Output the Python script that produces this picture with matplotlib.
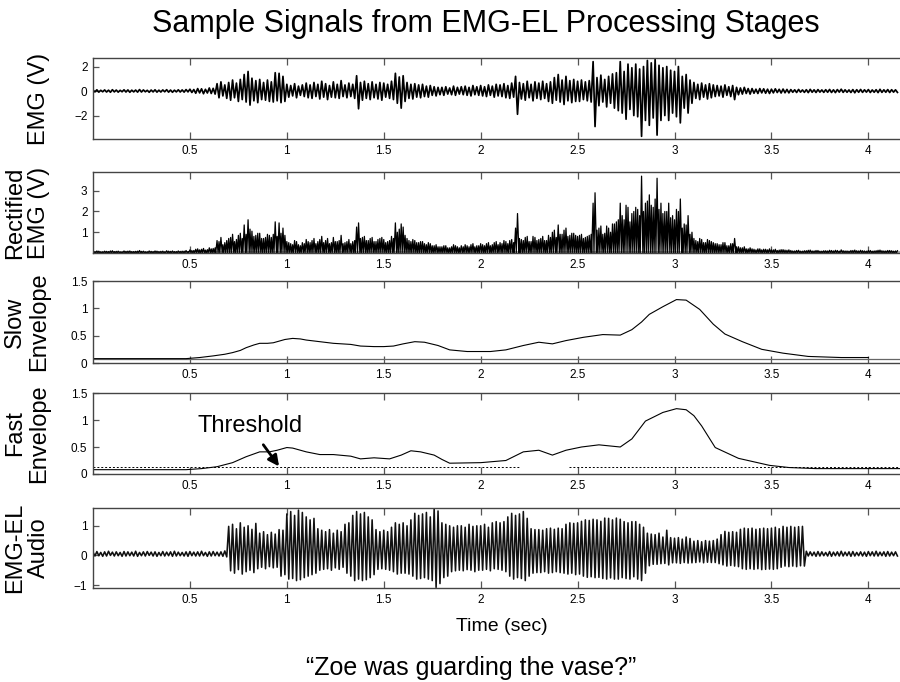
import numpy as np
import matplotlib.pyplot as plt
from matplotlib.ticker import FuncFormatter

plt.rcParams['font.family'] = ['Liberation Sans', 'DejaVu Sans']

# ---- data ----
bin_step = 0.02  # s, each bin gives one high and one low sample

emg_hi = [0.08, 0.10, 0.06, 0.09, 0.07, 0.11, 0.08, 0.06, 0.10, 0.09, 0.07, 0.08, 0.12, 0.09, 0.06, 0.08, 0.10, 0.07, 0.09, 0.11, 0.08, 0.07, 0.10, 0.09, 0.12,
          0.15, 0.12, 0.20, 0.18, 0.14, 0.25, 0.22,
          0.60, 0.75, 0.50, 0.70, 0.90, 0.65, 0.95, 1.35, 1.60, 1.05, 0.85, 0.95, 0.70, 0.90, 0.75, 1.50, 1.45, 1.20,
          0.55, 0.45, 0.60, 0.40, 0.50, 0.65, 0.50, 0.70, 0.55, 0.80, 0.60, 0.45, 0.75, 0.55, 0.85,
          0.50, 0.65, 0.55, 1.25, 0.70, 0.80, 0.60, 0.75, 0.55, 0.70, 0.65, 0.55, 0.80, 1.45, 1.15,
          1.25, 0.70, 0.55, 0.60, 0.50, 0.55, 0.40, 0.45, 0.35, 0.30, 0.30, 0.35, 0.25, 0.40, 0.30,
          0.35, 0.40, 0.30, 0.45, 0.35, 0.45, 0.35, 0.50, 0.40, 0.55, 0.50, 0.60, 0.45, 0.65, 1.20,
          0.70, 0.60, 0.80, 0.55, 0.75, 0.65, 0.80, 0.60, 0.75, 1.10, 1.35, 0.90, 1.20, 0.85, 0.95,
          0.80, 0.90, 0.75, 0.85, 2.40, 1.10, 1.30, 0.95, 1.20, 1.40, 1.50, 2.40, 1.60, 2.20, 1.90,
          2.20, 1.80, 2.00, 2.50, 2.30, 2.60, 2.10, 1.90, 2.00, 1.70, 1.60, 2.00, 1.20, 1.35, 0.90,
          0.70, 0.55, 0.65, 0.50, 0.60, 0.50, 0.45, 0.40, 0.50, 0.35, 0.45, 0.30, 0.25, 0.30, 0.20,
          0.20, 0.15, 0.20, 0.18, 0.15, 0.15, 0.18, 0.14, 0.16, 0.13,
          0.12, 0.10, 0.13, 0.09, 0.11, 0.14, 0.10, 0.12, 0.09, 0.11, 0.13, 0.10, 0.12, 0.15, 0.10, 0.09, 0.12, 0.11, 0.13, 0.10, 0.12, 0.09, 0.11, 0.14, 0.10, 0.12, 0.11, 0.10]
emg_lo = [-0.07, -0.09, -0.06, -0.08, -0.10, -0.07, -0.09, -0.06, -0.08, -0.10, -0.07, -0.09, -0.08, -0.06, -0.10, -0.07, -0.09, -0.08, -0.06, -0.09, -0.10, -0.07, -0.08, -0.09, -0.07,
          -0.12, -0.18, -0.15, -0.22, -0.16, -0.20, -0.25,
          -0.55, -0.40, -0.60, -0.75, -0.55, -0.85, -0.70, -0.90, -1.15, -0.80, -0.95, -0.70, -0.75, -0.85, -0.90, -0.80, -0.95, -0.85,
          -0.50, -0.40, -0.55, -0.35, -0.45, -0.55, -0.60, -0.45, -0.65, -0.50, -0.70, -0.50, -0.55, -0.60, -0.45,
          -0.55, -0.45, -0.60, -1.45, -0.75, -0.60, -0.70, -0.55, -0.65, -0.75, -0.50, -0.60, -0.70, -1.00, -1.40,
          -0.85, -0.60, -0.65, -0.50, -0.55, -0.45, -0.50, -0.35, -0.40, -0.30, -0.35, -0.25, -0.30, -0.35, -0.25,
          -0.30, -0.35, -0.40, -0.30, -0.35, -0.40, -0.45, -0.35, -0.50, -0.40, -0.45, -0.55, -0.60, -0.50, -1.90,
          -0.65, -0.75, -0.55, -0.80, -0.60, -0.70, -0.60, -0.85, -1.00, -0.75, -0.90, -1.10, -0.80, -0.95, -0.85,
          -0.85, -0.70, -0.80, -0.90, -2.90, -1.20, -0.90, -1.30, -1.00, -1.40, -1.60, -1.80, -2.30, -1.50, -2.00,
          -2.10, -3.70, -2.40, -2.80, -2.20, -3.60, -2.40, -2.00, -2.40, -1.80, -2.10, -2.60, -1.40, -1.80, -1.00,
          -0.60, -0.70, -0.50, -0.65, -0.55, -0.45, -0.40, -0.50, -0.35, -0.45, -0.70, -0.30, -0.25, -0.20, -0.25,
          -0.18, -0.20, -0.15, -0.18, -0.20, -0.15, -0.12, -0.16, -0.14, -0.15,
          -0.10, -0.12, -0.09, -0.11, -0.13, -0.10, -0.12, -0.09, -0.11, -0.10, -0.12, -0.13, -0.09, -0.11, -0.10, -0.12, -0.14, -0.10, -0.11, -0.09, -0.12, -0.10, -0.13, -0.11, -0.10, -0.12, -0.09, -0.11]

audio_hi = [0.11, 0.13, 0.10, 0.12, 0.14, 0.11, 0.12, 0.10, 0.13, 0.12, 0.11, 0.14, 0.10, 0.12, 0.13, 0.11, 0.12, 0.10, 0.13, 0.11, 0.12, 0.14, 0.11, 0.10, 0.12, 0.13, 0.11, 0.12, 0.14, 0.10, 0.12, 0.13, 0.11, 0.12,
            0.15, 0.98, 1.05, 0.90, 1.10, 0.95, 1.00, 0.88, 1.08, 0.75, 0.80, 0.70, 0.78, 0.72, 0.87, 0.85,
            1.40, 1.48, 1.35, 1.53, 1.45, 1.30, 1.20, 1.25, 0.90, 0.85, 0.80, 0.87, 0.75, 0.85, 0.80,
            1.05, 1.10, 1.35, 1.48, 1.40, 1.45, 1.30, 1.20, 0.87, 0.80, 0.85, 0.80, 0.95, 1.10, 1.05,
            1.10, 1.00, 1.20, 1.42, 1.35, 1.40, 1.45, 1.30, 1.60, 1.50, 1.10, 1.05, 1.00, 0.95, 1.00,
            1.00, 0.95, 1.05, 0.98, 1.00, 1.00, 1.05, 0.95, 1.10, 1.14, 1.10, 1.14, 1.30, 1.42, 1.35,
            1.40, 1.48, 1.25, 0.90, 0.87, 0.87, 0.85, 0.90, 0.92, 0.88, 0.92, 0.90, 1.05, 1.10, 1.08,
            1.10, 1.15, 1.20, 1.18, 1.22, 1.20, 1.15, 1.26, 1.25, 1.20, 1.26, 1.22, 1.14, 1.10, 1.14,
            1.14, 1.05, 0.95, 0.75, 0.72, 0.70, 0.75, 0.62, 0.85, 0.60, 0.58, 0.60, 0.55, 0.62, 0.57,
            0.48, 0.50, 0.46, 0.50, 0.48, 0.50, 0.55, 0.70, 0.81, 0.78, 0.80, 0.78, 0.88, 0.92, 0.90,
            0.92, 0.88, 0.90, 0.92, 0.90, 0.92, 0.95, 0.90, 0.98, 0.95, 0.98, 0.95, 0.97, 0.98,
            0.14, 0.12, 0.11, 0.13, 0.12, 0.10, 0.13, 0.11, 0.12, 0.14, 0.11, 0.12, 0.13, 0.10, 0.12, 0.11, 0.13, 0.12, 0.14, 0.11, 0.12, 0.13, 0.11, 0.12]
audio_lo = [-0.02, -0.01, -0.03, -0.02, 0.00, -0.02, -0.01, -0.03, -0.02, -0.01, -0.02, -0.03, -0.01, -0.02, 0.00, -0.02, -0.03, -0.01, -0.02, -0.01, -0.03, -0.02, -0.01, -0.02, -0.03, -0.01, -0.02, -0.02, -0.01, -0.03, -0.02, -0.01, -0.02, -0.03,
            -0.05, -0.52, -0.60, -0.48, -0.63, -0.55, -0.50, -0.58, -0.45, -0.40, -0.45, -0.38, -0.42, -0.40, -0.70, -0.65,
            -0.80, -0.78, -0.85, -0.82, -0.75, -0.70, -0.65, -0.60, -0.50, -0.47, -0.45, -0.50, -0.42, -0.47, -0.40,
            -0.60, -0.70, -0.85, -0.80, -0.85, -0.82, -0.75, -0.65, -0.47, -0.45, -0.47, -0.50, -0.55, -0.63, -0.60,
            -0.60, -0.63, -0.70, -0.80, -0.78, -0.75, -0.80, -0.85, -1.08, -0.95, -0.75, -0.70, -0.55, -0.52, -0.50,
            -0.52, -0.48, -0.50, -0.55, -0.50, -0.50, -0.47, -0.52, -0.45, -0.47, -0.50, -0.55, -0.70, -0.80, -0.75,
            -0.78, -0.85, -0.70, -0.60, -0.58, -0.58, -0.55, -0.60, -0.58, -0.55, -0.58, -0.60, -0.63, -0.60, -0.65,
            -0.63, -0.70, -0.74, -0.72, -0.75, -0.74, -0.78, -0.80, -0.76, -0.80, -0.80, -0.75, -0.78, -0.80, -0.72,
            -0.80, -0.85, -0.60, -0.35, -0.30, -0.30, -0.28, -0.27, -0.32, -0.25, -0.25, -0.27, -0.24, -0.26, -0.25,
            -0.24, -0.22, -0.25, -0.23, -0.24, -0.24, -0.28, -0.32, -0.36, -0.34, -0.36, -0.38, -0.45, -0.47, -0.45,
            -0.47, -0.45, -0.48, -0.47, -0.46, -0.47, -0.45, -0.40, -0.36, -0.38, -0.36, -0.38, -0.35, -0.36,
            -0.02, -0.01, -0.03, -0.02, -0.01, -0.02, -0.03, -0.01, -0.02, -0.02, -0.01, -0.03, -0.02, -0.01, -0.02, -0.03, -0.01, -0.02, -0.02, -0.01, -0.03, -0.02, -0.01, -0.02]

slow_t = [0, 0.48, 0.55, 0.62, 0.68, 0.72, 0.76, 0.79, 0.83, 0.86, 0.90, 0.93, 0.96, 0.99, 1.03, 1.07, 1.10, 1.17,
          1.24, 1.33, 1.38, 1.45, 1.50, 1.55, 1.60, 1.66, 1.71, 1.78, 1.84, 1.93, 2.05, 2.13, 2.22, 2.30, 2.37, 2.44,
          2.53, 2.63, 2.72, 2.78, 2.83, 2.87, 2.94, 3.01, 3.06, 3.13, 3.20, 3.26, 3.35, 3.45, 3.56, 3.69, 3.86, 4.00]
slow_env = [0.08, 0.08, 0.10, 0.13, 0.16, 0.19, 0.23, 0.28, 0.33, 0.36, 0.36, 0.37, 0.40, 0.43, 0.45, 0.44, 0.42, 0.39,
            0.36, 0.34, 0.31, 0.30, 0.30, 0.31, 0.35, 0.39, 0.38, 0.32, 0.24, 0.21, 0.21, 0.24, 0.32, 0.38, 0.35, 0.41,
            0.47, 0.52, 0.51, 0.61, 0.75, 0.89, 1.03, 1.16, 1.15, 0.98, 0.71, 0.53, 0.39, 0.25, 0.18, 0.12, 0.10, 0.10]

fast_t = [0, 0.48, 0.56, 0.64, 0.72, 0.79, 0.86, 0.91, 0.95, 1.00, 1.03, 1.10, 1.17, 1.24, 1.33, 1.38, 1.45, 1.53,
          1.59, 1.64, 1.69, 1.76, 1.80, 1.84, 2.00, 2.13, 2.22, 2.30, 2.37, 2.44, 2.52, 2.61, 2.72, 2.78, 2.85, 2.94,
          3.01, 3.06, 3.10, 3.14, 3.21, 3.33, 3.49, 3.59, 3.73, 4.22]
fast_env = [0.08, 0.08, 0.10, 0.135, 0.21, 0.32, 0.41, 0.41, 0.44, 0.49, 0.48, 0.41, 0.36, 0.36, 0.33, 0.28, 0.30, 0.28,
            0.35, 0.43, 0.41, 0.35, 0.27, 0.20, 0.21, 0.25, 0.41, 0.44, 0.35, 0.44, 0.50, 0.54, 0.50, 0.65, 0.98, 1.14,
            1.21, 1.19, 1.08, 0.89, 0.49, 0.29, 0.16, 0.12, 0.10, 0.10]

threshold = 0.13
threshold_spans = [(0.0, 2.20), (2.455, 4.22)]
env_floor = 0.08
rect_floor = 0.03

x_ticks = [0.5, 1, 1.5, 2, 2.5, 3, 3.5, 4]
panel_labels = ['EMG (V)', 'Rectified\nEMG (V)', 'Slow\nEnvelope', 'Fast\nEnvelope', 'EMG-EL\nAudio']
panel_yticks = [[-2, 0, 2], [1, 2, 3], [0, 0.5, 1, 1.5], [0, 0.5, 1, 1.5], [-1, 0, 1]]
panel_ylims = [(-3.92, 2.7), (0, 3.9), (0, 1.5), (0, 1.5), (-1.1, 1.6)]


def zigzag(hi, lo, step):
    t0 = np.arange(len(hi)) * step
    t = np.column_stack([t0, t0 + step / 2]).ravel()
    y = np.column_stack([hi, lo]).ravel()
    return t, y


def rectify(t, y):
    # put in the zero crossings of the trace, then fold it up
    tt, yy = [t[0]], [y[0]]
    for i in range(1, len(y)):
        if y[i - 1] * y[i] < 0:
            tc = t[i - 1] + (t[i] - t[i - 1]) * y[i - 1] / (y[i - 1] - y[i])
            tt.append(tc)
            yy.append(0.0)
        tt.append(t[i])
        yy.append(y[i])
    return np.array(tt), np.abs(yy)


emg_t, emg_y = zigzag(emg_hi, emg_lo, bin_step)
rect_t, rect_y = rectify(emg_t, emg_y)
aud_t, aud_y = zigzag(audio_hi, audio_lo, bin_step)

# ---- figure ----
W, H = 900, 682
fig = plt.figure(figsize=(W / 100, H / 100), dpi=100)

left_px, right_px = 93, 911
panel_px = [(58, 139), (172, 253), (281, 363), (393, 474), (508, 588)]

axes = []
for top, bot in panel_px:
    ax = fig.add_axes([left_px / W, 1 - bot / H, (right_px - left_px) / W, (bot - top) / H])
    axes.append(ax)

fmt = FuncFormatter(lambda v, p: ('%g' % v).replace('-', '\u2212'))
for ax, lab, yt, yl in zip(axes, panel_labels, panel_yticks, panel_ylims):
    ax.set_xlim(0, 4.22)
    ax.set_ylim(*yl)
    ax.set_xticks(x_ticks)
    ax.set_yticks(yt)
    ax.xaxis.set_major_formatter(fmt)
    ax.yaxis.set_major_formatter(fmt)
    ax.tick_params(direction='in', top=True, length=5, width=0.9, color='#555555',
                   labelsize=8.5, pad=4)
    ax.tick_params(axis='y', length=4)
    for s in ax.spines.values():
        s.set_color('#444444')
        s.set_linewidth(1.0)
    ax.set_ylabel(lab, fontsize=17, linespacing=1.1)
    ax.yaxis.set_label_coords(-0.053, 0.5)

axes[0].plot(emg_t, emg_y, color='black', lw=1.25)

axes[1].axhline(rect_floor, color='#999999', lw=1.2)
axes[1].plot(rect_t, rect_y, color='black', lw=0.9)

axes[2].axhline(env_floor, color='#666666', lw=0.9)
axes[2].plot(slow_t, slow_env, color='black', lw=0.8)

axes[3].plot(fast_t, fast_env, color='black', lw=0.8)
for a, b in threshold_spans:
    axes[3].hlines(threshold, a, b, colors='black', lw=0.7, linestyles=(0, (2, 2)))
axes[3].annotate('Threshold', xy=(0.96, threshold + 0.01), xytext=(0.81, 0.88),
                 fontsize=17, ha='center', va='center',
                 arrowprops=dict(arrowstyle='-|>', color='black', lw=2, mutation_scale=16,
                                 shrinkA=4, shrinkB=0))

axes[4].plot(aud_t, aud_y, color='#111111', lw=1.15)
axes[4].set_xlabel('Time (sec)', fontsize=14, labelpad=9)

fig.text(0.54, 1 - 24 / H, 'Sample Signals from EMG-EL Processing Stages',
         fontsize=22, ha='center', va='center')
fig.text(0.523, 0.02, '\u201cZoe was guarding the vase?\u201d', fontsize=18, ha='center', va='center')

fig.savefig('out.png', dpi=100)
